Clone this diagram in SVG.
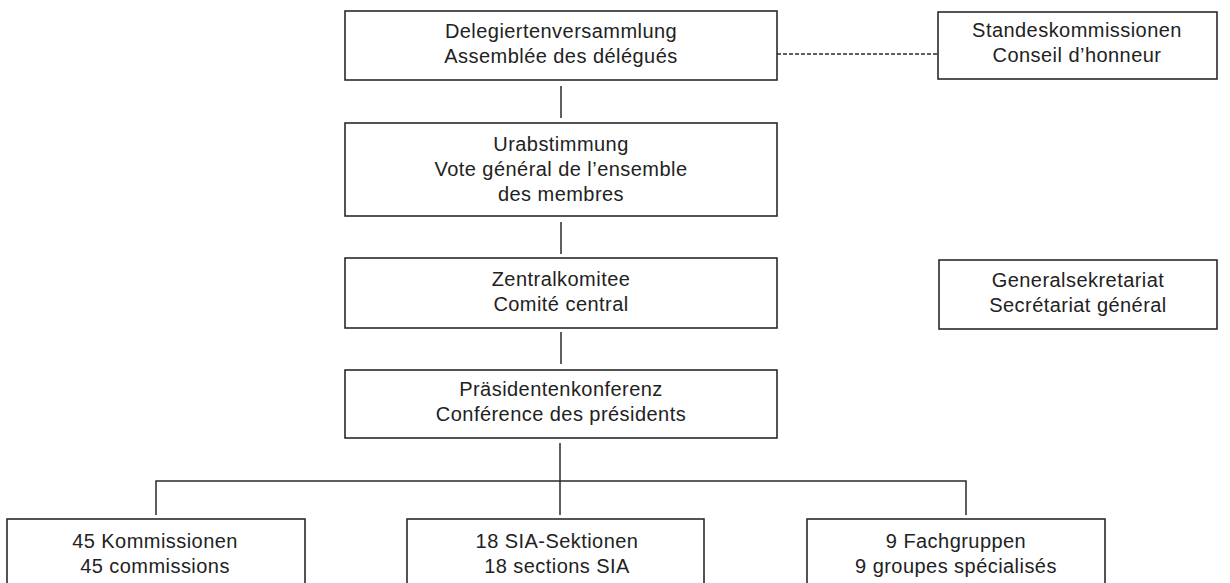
<svg xmlns="http://www.w3.org/2000/svg" width="1230" height="583" viewBox="0 0 1230 583">
<style>
.box{fill:#fff;stroke:#2a2a2a;stroke-width:1.6}
.ln{fill:none;stroke:#2a2a2a;stroke-width:1.5}
.dash{fill:none;stroke:#2a2a2a;stroke-width:1.3;stroke-dasharray:4 2}
text{font-family:"Liberation Sans",Arial,sans-serif;font-size:20px;letter-spacing:0.45px;fill:#222;text-anchor:middle}
</style>
<rect width="1230" height="583" fill="#fff"/>
<g id="connectors">
<line class="dash" x1="777" y1="54" x2="938" y2="54"/>
<line class="ln" x1="561" y1="86" x2="561" y2="118"/>
<line class="ln" x1="561" y1="222" x2="561" y2="254"/>
<line class="ln" x1="561" y1="332" x2="561" y2="364"/>
<line class="ln" x1="560" y1="443" x2="560" y2="481"/>
<polyline class="ln" points="156,515 156,481 966,481 966,515"/>
<line class="ln" x1="560" y1="481" x2="560" y2="515"/>
</g>
<g id="delegierten">
<rect class="box" x="345" y="11" width="432" height="69"/>
<text x="561" y="38">Delegiertenversammlung</text>
<text x="561" y="63">Assemblée des délégués</text>
</g>
<g id="standes">
<rect class="box" x="938" y="12" width="279" height="67"/>
<text x="1077" y="37">Standeskommissionen</text>
<text x="1077" y="62">Conseil d’honneur</text>
</g>
<g id="urabstimmung">
<rect class="box" x="345" y="123" width="432" height="93"/>
<text x="561" y="151">Urabstimmung</text>
<text x="561" y="176">Vote général de l’ensemble</text>
<text x="561" y="201">des membres</text>
</g>
<g id="zentral">
<rect class="box" x="345" y="258" width="432" height="70"/>
<text x="561" y="286">Zentralkomitee</text>
<text x="561" y="311">Comité central</text>
</g>
<g id="generalsekretariat">
<rect class="box" x="939" y="260" width="278" height="69"/>
<text x="1078" y="287">Generalsekretariat</text>
<text x="1078" y="312">Secrétariat général</text>
</g>
<g id="praesidenten">
<rect class="box" x="345" y="370" width="432" height="68"/>
<text x="561" y="396">Präsidentenkonferenz</text>
<text x="561" y="421">Conférence des présidents</text>
</g>
<g id="kommissionen">
<rect class="box" x="7" y="519" width="298" height="80"/>
<text x="155" y="548">45 Kommissionen</text>
<text x="155" y="573">45 commissions</text>
</g>
<g id="sektionen">
<rect class="box" x="407" y="519" width="297" height="80"/>
<text x="557" y="548">18 SIA-Sektionen</text>
<text x="557" y="573">18 sections SIA</text>
</g>
<g id="fachgruppen">
<rect class="box" x="807" y="519" width="298" height="80"/>
<text x="956" y="548">9 Fachgruppen</text>
<text x="956" y="573">9 groupes spécialisés</text>
</g>
</svg>
